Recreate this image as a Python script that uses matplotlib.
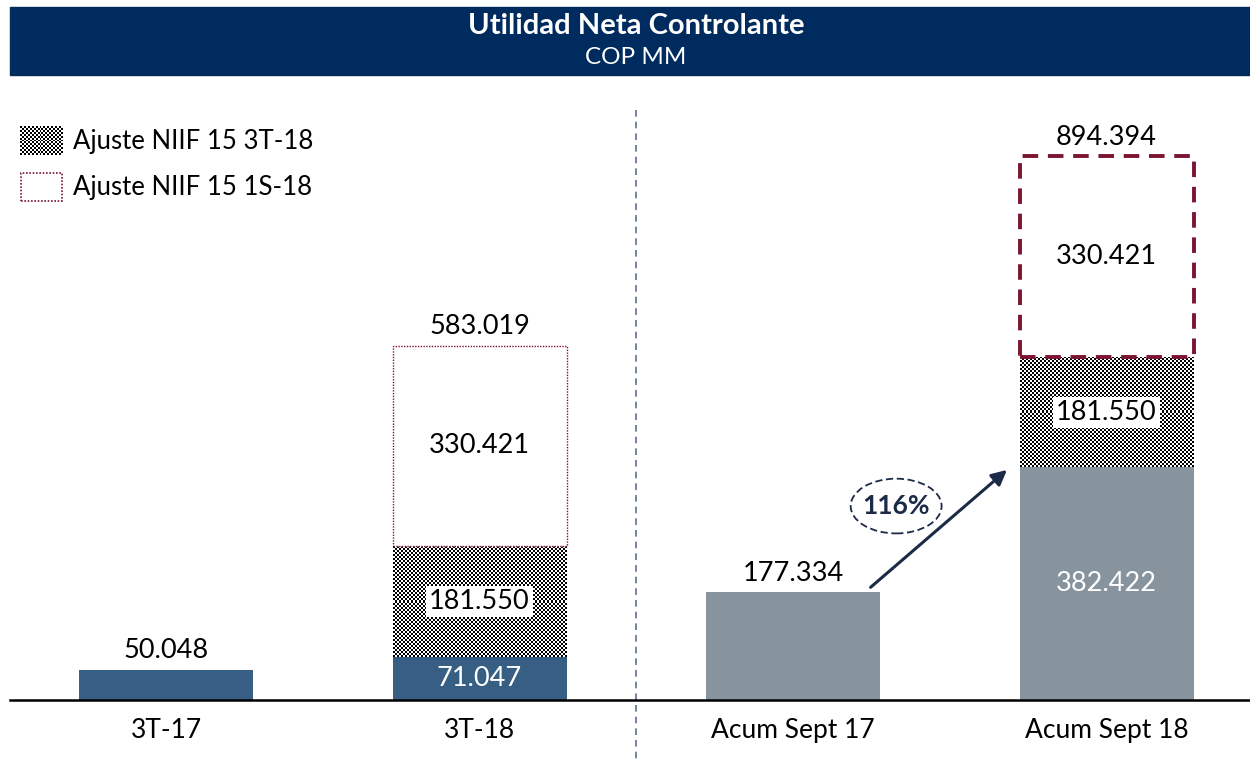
import numpy as np
import matplotlib
matplotlib.use("Agg")
import matplotlib.pyplot as plt
from matplotlib.patches import Rectangle, Ellipse

plt.rcParams['font.family'] = ['Lato', 'DejaVu Sans']

# ---- data ----
categories = ["3T-17", "3T-18", "Acum Sept 17", "Acum Sept 18"]
base_values = [50.048, 71.047, 177.334, 382.422]
adj_3t18 = [0, 181.550, 0, 181.550]
adj_1s18 = [0, 330.421, 0, 330.421]
totals = [50.048, 583.019, 177.334, 894.394]
growth_label = "116%"
legend_labels = ["Ajuste NIIF 15 3T-18", "Ajuste NIIF 15 1S-18"]
title = "Utilidad Neta Controlante"
subtitle = "COP MM"

W, H = 1250, 759
fig = plt.figure(figsize=(W / 100, H / 100), dpi=100)

navy = "#375E83"
gray = "#87939D"
banner = "#002B5F"
red = "#7B1530"
dark = "#1B2A47"

# banner
fig.patches.append(Rectangle((10 / W, 1 - 75 / H), 1240 / W, 68 / H,
                             transform=fig.transFigure, color=banner, zorder=0))
fig.text(636 / W, 1 - 26 / H, title, color="white", fontsize=21, fontweight="bold",
         ha="center", va="center")
fig.text(636 / W, 1 - 57 / H, subtitle, color="white", fontsize=17.5,
         ha="center", va="center")

# axes
ax = fig.add_axes([10 / W, (H - 700) / H, 1240 / W, 620 / H])
step = 313.5
xl = ((10 - 166) / step, (1250 - 166) / step)
yl = (0, 620 / 0.608)
x = np.arange(len(categories))
width = 174 / step
bar_colors = [navy, navy, gray, gray]

bars_base = ax.bar(x, base_values, width, color=bar_colors, zorder=2)
bottoms2 = np.array(base_values)
bars_adj = ax.bar(x, adj_3t18, width, bottom=bottoms2, color="white", zorder=2)
bottoms3 = bottoms2 + np.array(adj_3t18)


def checker(nx, ny):
    yy, xx = np.mgrid[0:ny, 0:nx]
    return ((xx + yy) % 2).astype(float)


for b, v in zip(bars_adj, adj_3t18):
    if v <= 0:
        continue
    x0, y0, w, h = b.get_x(), b.get_y(), b.get_width(), b.get_height()
    nx = int(round(w * step / 2))
    ny = int(round(h * 0.608 / 2))
    im = ax.imshow(checker(nx, ny), cmap="gray", interpolation="nearest",
                   extent=(x0, x0 + w, y0, y0 + h), aspect="auto", zorder=3)
    im.set_clip_path(b)

styles = [None, dict(ls=(0, (1, 1)), lw=1.0), None, dict(ls=(0, (4, 2.5)), lw=2.8)]
for xi, b0, v, st in zip(x, bottoms3, adj_1s18, styles):
    if v <= 0:
        continue
    ax.bar(xi, v, width, bottom=b0, facecolor="white", edgecolor=red,
           linestyle=st["ls"], linewidth=st["lw"], zorder=4)

fs = 19.5
for xi, v, a1, a2, t in zip(x, base_values, adj_3t18, adj_1s18, totals):
    if a1 > 0:
        ax.text(xi, v / 2, f"{v:.3f}", ha="center", va="center", color="white",
                fontsize=fs, zorder=6)
        ax.text(xi, v + a1 / 2, f"{a1:.3f}", ha="center", va="center", color="black",
                fontsize=fs, zorder=6,
                bbox=dict(facecolor="white", edgecolor="none", pad=2))
        ax.text(xi, v + a1 + a2 / 2, f"{a2:.3f}", ha="center", va="center",
                color="black", fontsize=fs, zorder=6)
    ax.text(xi, t + 10, f"{t:.3f}", ha="center", va="bottom", color="black",
            fontsize=fs, zorder=6)

# arrow
ax.annotate("", xy=(x[3] - width / 2 - 0.04, base_values[3] - 4),
            xytext=(x[2] + width / 2 - 0.03, base_values[2] + 8),
            arrowprops=dict(arrowstyle="-|>,head_length=0.9,head_width=0.45",
                            color=dark, lw=2.2, shrinkA=0, shrinkB=0), zorder=7)
ax.add_patch(Ellipse((2.329, 319), 0.29, 90, facecolor="white", edgecolor=dark,
                     ls=(0, (4, 2)), lw=1.3, zorder=7))
ax.text(2.329, 319, growth_label, ha="center", va="center", fontsize=19,
        fontweight="bold", color=dark, zorder=8)

# divider
ax.plot([1.5, 1.5], [970, -97], color="#5D6F8C", ls=(0, (4, 3)), lw=1.2,
        clip_on=False, zorder=1)

ax.set_xlim(*xl)
ax.set_ylim(*yl)
for s in ["top", "right", "left"]:
    ax.spines[s].set_visible(False)
ax.spines["bottom"].set_linewidth(1.8)
ax.set_yticks([])
ax.set_xticks(x)
ax.set_xticklabels(categories, fontsize=19)
ax.tick_params(axis="x", length=0, pad=13)

# legend
lax1 = fig.add_axes([20 / W, 1 - 155 / H, 43 / W, 29 / H])
lax1.imshow(checker(22, 15), cmap="gray", interpolation="nearest", aspect="auto")
lax1.axis("off")
lax2 = fig.add_axes([20 / W, 1 - 202 / H, 43 / W, 30 / H])
lax2.add_patch(Rectangle((0.015, 0.02), 0.97, 0.96, facecolor="white", edgecolor=red,
                         ls=(0, (1, 1)), lw=1.2))
lax2.set_xlim(0, 1); lax2.set_ylim(0, 1)
lax2.axis("off")
fig.text(73 / W, 1 - 141 / H, legend_labels[0], fontsize=18.5, va="center", ha="left")
fig.text(73 / W, 1 - 187 / H, legend_labels[1], fontsize=18.5, va="center", ha="left")

fig.savefig("out.png", dpi=100)
